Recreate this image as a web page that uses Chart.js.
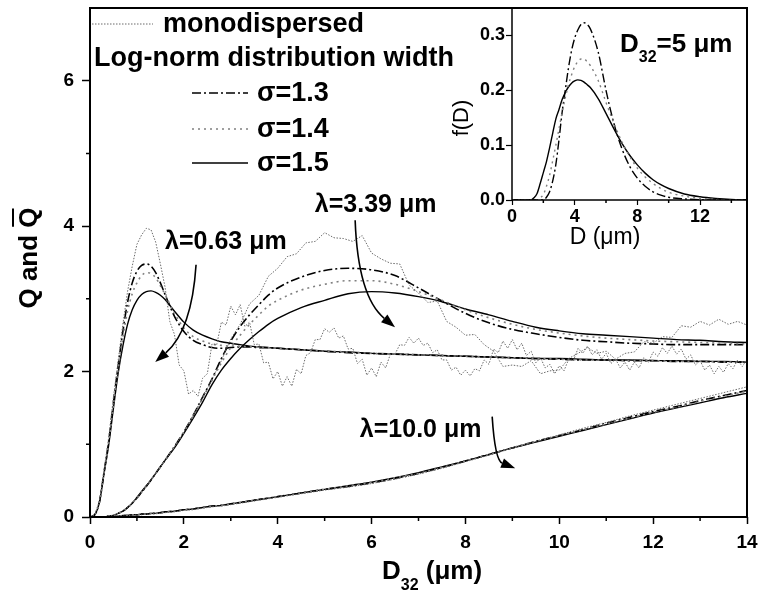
<!DOCTYPE html>
<html>
<head>
<meta charset="utf-8">
<script src="https://cdn.jsdelivr.net/npm/chart.js@4.4.1/dist/chart.umd.min.js"></script>
<style>
  body { margin: 0; background: #fff; }
  #wrap { position: relative; width: 760px; height: 598px; }
  #main { position: absolute; left: 0; top: 0; }
  #inset { position: absolute; left: 440px; top: 0; }
</style>
</head>
<body>
<div id="wrap">
  <canvas id="main" width="760" height="598"></canvas>
  <canvas id="inset" width="320" height="250"></canvas>
</div>
<script>
// ---- main plot data: Q vs D32 ----
const xSmooth = [0,0.1,0.2,0.3,0.4,0.5,0.6,0.7,0.8,0.9,1,1.1,1.2,1.3,1.4,1.5,1.6,
  1.8,2,2.2,2.4,2.6,2.8,3,3.2,3.4,3.6,3.8,4,
  4.5,5,5.5,6,6.5,7,7.5,8,8.5,9,9.5,10,10.5,11,11.5,12,12.5,13,13.5,14];

// lambda = 0.63 um
const q063s13 = [0,0.03,0.2,0.62,1.05,1.58,2.08,2.55,2.95,3.22,3.38,3.46,3.48,3.45,3.36,3.22,3.06,
  2.76,2.55,2.43,2.37,2.33,2.32,2.33,2.34,2.34,2.33,2.33,2.32,
  2.3,2.28,2.26,2.25,2.24,2.23,2.22,2.21,2.2,2.19,2.18,2.17,2.16,2.16,2.15,2.15,2.14,2.14,2.13,2.13];
const q063s14 = [0,0.03,0.2,0.61,1.02,1.54,2.03,2.47,2.83,3.07,3.22,3.32,3.36,3.35,3.29,3.18,3.06,
  2.8,2.6,2.48,2.42,2.38,2.36,2.35,2.35,2.34,2.34,2.33,2.32,
  2.3,2.28,2.27,2.25,2.24,2.23,2.22,2.21,2.2,2.19,2.18,2.17,2.16,2.16,2.15,2.15,2.14,2.14,2.13,2.13];
const q063s15 = [0,0.03,0.2,0.6,1.0,1.5,1.98,2.35,2.65,2.85,2.98,3.06,3.1,3.11,3.09,3.05,2.99,
  2.83,2.68,2.57,2.5,2.45,2.41,2.39,2.37,2.35,2.34,2.33,2.32,
  2.3,2.28,2.27,2.25,2.24,2.23,2.22,2.21,2.2,2.19,2.18,2.18,2.17,2.16,2.16,2.15,2.15,2.14,2.14,2.13];

// lambda = 3.39 um
const q339s13 = [0,0,0,0,0.01,0.02,0.05,0.08,0.13,0.19,0.26,0.34,0.42,0.51,0.6,0.69,0.78,
  0.97,1.17,1.4,1.65,1.9,2.18,2.42,2.62,2.78,2.92,3.05,3.15,
  3.3,3.39,3.42,3.4,3.32,3.15,2.97,2.8,2.67,2.58,2.52,2.47,2.43,2.41,2.39,2.38,2.37,2.37,2.37,2.37];
const q339s14 = [0,0,0,0,0.01,0.02,0.05,0.08,0.13,0.19,0.26,0.34,0.42,0.51,0.6,0.69,0.78,
  0.97,1.17,1.39,1.63,1.88,2.12,2.33,2.5,2.65,2.78,2.9,2.98,
  3.12,3.2,3.25,3.25,3.2,3.1,2.98,2.85,2.74,2.65,2.58,2.53,2.49,2.46,2.44,2.42,2.41,2.4,2.39,2.38];
const q339s15 = [0,0,0,0,0.01,0.02,0.05,0.08,0.13,0.19,0.27,0.35,0.43,0.51,0.6,0.69,0.78,
  0.95,1.15,1.36,1.58,1.82,2.02,2.18,2.32,2.44,2.55,2.65,2.73,
  2.88,2.98,3.07,3.1,3.08,3.03,2.96,2.86,2.78,2.69,2.61,2.56,2.52,2.5,2.48,2.46,2.44,2.43,2.41,2.4];

// lambda = 10.0 um
const q10s13 = [0,0,0,0,0.01,0.01,0.01,0.02,0.02,0.03,0.03,0.04,0.04,0.05,0.05,0.06,0.07,
  0.08,0.1,0.11,0.13,0.15,0.16,0.18,0.2,0.22,0.24,0.26,0.28,
  0.33,0.38,0.42,0.47,0.53,0.6,0.68,0.77,0.86,0.95,1.04,1.12,1.2,1.29,1.37,1.45,1.52,1.6,1.67,1.74];
const q10s14 = [0,0,0,0,0.01,0.01,0.01,0.02,0.02,0.03,0.03,0.04,0.04,0.05,0.05,0.06,0.07,
  0.08,0.1,0.11,0.13,0.15,0.16,0.18,0.2,0.22,0.24,0.26,0.28,
  0.33,0.38,0.43,0.48,0.54,0.6,0.68,0.77,0.86,0.95,1.04,1.12,1.2,1.28,1.36,1.44,1.51,1.59,1.66,1.73];
const q10s15 = [0,0,0,0,0.01,0.01,0.01,0.02,0.02,0.03,0.03,0.04,0.04,0.05,0.05,0.06,0.07,
  0.08,0.1,0.11,0.13,0.15,0.16,0.18,0.2,0.22,0.24,0.26,0.28,
  0.33,0.38,0.43,0.48,0.54,0.61,0.69,0.77,0.86,0.95,1.03,1.11,1.19,1.27,1.35,1.43,1.5,1.57,1.64,1.7];
const q10mono = [0,0,0,0,0,0.01,0.01,0.01,0.02,0.02,0.03,0.03,0.04,0.04,0.05,0.05,0.06,
  0.07,0.09,0.1,0.12,0.14,0.15,0.17,0.19,0.21,0.23,0.25,0.27,
  0.32,0.37,0.41,0.46,0.52,0.59,0.67,0.76,0.85,0.95,1.04,1.13,1.22,1.3,1.39,1.47,1.55,1.63,1.71,1.79];

// monodispersed, lambda = 0.63 um (fine step, keeps the ripple)
const xFine = [0,0.1,0.2,0.3,0.4,0.5,0.6,0.7,0.8,0.9,
  1,1.1,1.2,1.3,1.4,1.5,1.6,1.7,1.8,1.9, 2,2.1,2.2,2.3,2.4,2.5,2.6,2.7,2.8,2.9,
  3,3.1,3.2,3.3,3.4,3.5,3.6,3.7,3.8,3.9, 4,4.1,4.2,4.3,4.4,4.5,4.6,4.7,4.8,4.9,
  5,5.1,5.2,5.3,5.4,5.5,5.6,5.7,5.8,5.9, 6,6.1,6.2,6.3,6.4,6.5,6.6,6.7,6.8,6.9,
  7,7.1,7.2,7.3,7.4,7.5,7.6,7.7,7.8,7.9, 8,8.1,8.2,8.3,8.4,8.5,8.6,8.7,8.8,8.9,
  9,9.1,9.2,9.3,9.4,9.5,9.6,9.7,9.8,9.9, 10,10.1,10.2,10.3,10.4,10.5,10.6,10.7,10.8,10.9,
  11,11.1,11.2,11.3,11.4,11.5,11.6,11.7,11.8,11.9, 12,12.1,12.2,12.3,12.4,12.5,12.6,12.7,12.8,12.9,
  13,13.1,13.2,13.3,13.4,13.5,13.6,13.7,13.8,13.9, 14];
const q063mono = [0,0.03,0.22,0.65,1.1,1.65,2.15,2.65,3.1,3.45,
  3.75,3.88,3.97,3.95,3.78,3.48,3.16,2.69,2.51,2.09, 2.01,1.69,1.74,1.66,1.91,1.97,2.38,2.37,2.68,2.64,
  2.9,2.78,2.92,2.62,2.68,2.37,2.38,2.12,2.13,1.9, 2.0,1.8,1.93,1.8,2.03,1.97,2.22,2.26,2.44,2.44,
  2.59,2.54,2.6,2.46,2.49,2.31,2.32,2.11,2.17,1.95, 2.05,1.93,2.13,2.05,2.24,2.24,2.37,2.36,2.47,2.39,
  2.46,2.36,2.39,2.26,2.3,2.16,2.16,2.02,2.06,1.95, 2.02,1.94,2.04,2.01,2.16,2.1,2.31,2.26,2.42,2.32,
  2.44,2.3,2.39,2.22,2.28,2.12,2.19,2.05,2.1,1.97, 2.08,2.01,2.17,2.15,2.32,2.25,2.35,2.23,2.3,2.17,
  2.25,2.11,2.17,2.05,2.13,2.02,2.13,2.05,2.19,2.13, 2.27,2.21,2.33,2.25,2.35,2.24,2.31,2.17,2.23,2.09,
  2.15,2.02,2.09,1.97,2.07,1.99,2.11,2.04,2.16,2.07, 2.17];

// monodispersed, lambda = 3.39 um
const xMid = [0,0.2,0.4,0.6,0.8,1,1.2,1.4,1.6,1.8, 2,2.2,2.4,2.6,2.8,3,3.2,3.4,3.6,3.8,
  4,4.2,4.4,4.6,4.8,5,5.2,5.4,5.6,5.8, 6,6.2,6.4,6.6,6.8,7,7.2,7.4,7.6,7.8,
  8,8.2,8.4,8.6,8.8,9,9.2,9.4,9.6,9.8, 10,10.2,10.4,10.6,10.8,11,11.2,11.4,11.6,11.8,
  12,12.2,12.4,12.6,12.8,13,13.2,13.4,13.6,13.8, 14];
const q339mono = [0,0,0.01,0.05,0.13,0.27,0.43,0.6,0.78,0.97, 1.17,1.4,1.64,1.9,2.15,2.45,2.65,2.93,3.05,3.31,
  3.42,3.58,3.62,3.77,3.79,3.91,3.84,3.83,3.79,3.87, 3.63,3.55,3.49,3.48,3.19,3.08,2.95,2.97,2.69,2.61,
  2.5,2.51,2.37,2.28,2.07,2.09,2.07,2.15,1.97,2.01, 2.02,2.18,2.25,2.33,2.25,2.28,2.17,2.25,2.27,2.41,
  2.39,2.48,2.47,2.63,2.61,2.69,2.64,2.72,2.65,2.69, 2.64];

const xTicks = [0,2,4,6,8,10,12,14];
const xMinor = [1,3,5,7,9,11,13];
const yTicks = [0,2,4,6];
const yMinor = [1,3,5];

// ---- inset data: f(D), D32 = 5 um ----
const insetD = [0,1,1.2,1.4,1.6,1.8,2,2.2,2.4,2.6,2.8,3,3.2,3.4,3.6,3.8,4,4.2,4.4,4.6,4.8,5,
  5.5,6,6.5,7,7.5,8,8.5,9,9.5,10, 11,12,13,14,15];
const f13 = [0,0,0,0,0,0,0,0.005,0.015,0.035,0.065,0.11,0.16,0.2,0.24,0.272,0.295,0.31,0.32,0.323,0.32,0.312,
  0.27,0.2,0.14,0.095,0.062,0.04,0.025,0.015,0.009,0.005, 0.002,0.0005,0,0,0];
const f14 = [0,0,0,0,0,0.004,0.01,0.025,0.045,0.072,0.1,0.13,0.16,0.186,0.21,0.228,0.243,0.252,0.257,0.257,0.252,0.245,
  0.218,0.178,0.14,0.107,0.08,0.058,0.042,0.03,0.021,0.014, 0.007,0.003,0.001,0,0];
const f15 = [0,0,0,0.004,0.012,0.03,0.05,0.07,0.095,0.122,0.148,0.165,0.183,0.196,0.206,0.213,0.217,0.219,0.218,0.215,0.21,0.205,
  0.185,0.158,0.13,0.104,0.082,0.064,0.049,0.037,0.028,0.021, 0.011,0.006,0.003,0.001,0];
const insetXTicks = [0,4,8,12];
const insetXMinor = [2,6,10,14];
const insetYTicks = [0,0.1,0.2,0.3];

// annotation text and arrows (data units: label left/centre, arrow start / bend / tip)
const lambdaText = ['λ=0.63 μm', 'λ=3.39 μm', 'λ=10.0 μm'];
const lambdaAt = [[1.6, 3.78], [4.79, 4.29], [5.75, 1.2]];
const arrows = [
  [[2.26, 3.47], [2.17, 2.57], [1.39, 2.13]],
  [[5.65, 4.08], [5.71, 3.03], [6.5, 2.61]],
  [[8.57, 1.38], [8.63, 0.78], [9.06, 0.67]]
];

const F = '"Liberation Sans", Arial, sans-serif';
const pts = (xs, ys) => xs.map((x, i) => ({ x, y: ys[i] }));

const monoStyle = { borderColor: '#6a6a6a', borderWidth: 1, borderDash: [1.5, 1.5], tension: 0 };
const s13Style = { borderColor: '#000', borderWidth: 1.6, borderDash: [9, 3, 2, 3], cubicInterpolationMode: 'monotone' };
const s14Style = { borderColor: '#808080', borderWidth: 1.6, borderDash: [2, 4], cubicInterpolationMode: 'monotone' };
const s15Style = { borderColor: '#000', borderWidth: 1.4, cubicInterpolationMode: 'monotone' };

// keep the plot box where the reference has it: no extra room for edge labels
const noPad = s => { s.paddingTop = 0; s.paddingBottom = 0; s.paddingLeft = 0; s.paddingRight = 0; };

function drawArrow(ctx, x, y, a) {
  const p0 = [x.getPixelForValue(a[0][0]), y.getPixelForValue(a[0][1])];
  const p1 = [x.getPixelForValue(a[1][0]), y.getPixelForValue(a[1][1])];
  const p2 = [x.getPixelForValue(a[2][0]), y.getPixelForValue(a[2][1])];
  const ang = Math.atan2(p2[1] - p1[1], p2[0] - p1[0]);
  const L = 14, W = 5;
  const bx = p2[0] - L * Math.cos(ang), by = p2[1] - L * Math.sin(ang);
  ctx.beginPath();
  ctx.moveTo(p0[0], p0[1]);
  ctx.quadraticCurveTo(p1[0], p1[1], bx, by);
  ctx.stroke();
  ctx.beginPath();
  ctx.moveTo(p2[0], p2[1]);
  ctx.lineTo(bx + W * Math.sin(ang), by - W * Math.cos(ang));
  ctx.lineTo(bx - W * Math.sin(ang), by + W * Math.cos(ang));
  ctx.closePath();
  ctx.fill();
}

const mainDecor = {
  id: 'mainDecor',
  afterDraw(chart) {
    const { ctx, chartArea: a, scales: { x, y } } = chart;
    ctx.save();
    ctx.strokeStyle = '#000';
    ctx.fillStyle = '#000';
    ctx.setLineDash([]);
    ctx.lineWidth = 2;
    ctx.strokeRect(a.left, a.top, a.right - a.left, a.bottom - a.top);

    ctx.lineWidth = 1.5;
    ctx.beginPath();
    xMinor.forEach(v => { const px = x.getPixelForValue(v); ctx.moveTo(px, a.bottom); ctx.lineTo(px, a.bottom + 4); });
    yMinor.forEach(v => { const py = y.getPixelForValue(v); ctx.moveTo(a.left, py); ctx.lineTo(a.left - 4, py); });
    ctx.stroke();

    // legend
    ctx.textBaseline = 'middle';
    ctx.font = `bold 27px ${F}`;
    ctx.strokeStyle = monoStyle.borderColor; ctx.lineWidth = 1; ctx.setLineDash(monoStyle.borderDash);
    ctx.beginPath(); ctx.moveTo(92, 24); ctx.lineTo(153, 24); ctx.stroke();
    ctx.fillText('monodispersed', 163, 25);
    ctx.fillText('Log-norm distribution width', 94, 59);
    const rows = [[s13Style, 'σ=1.3', 93], [s14Style, 'σ=1.4', 129], [s15Style, 'σ=1.5', 163]];
    rows.forEach(([st, t, yy]) => {
      ctx.strokeStyle = st.borderColor; ctx.lineWidth = st.borderWidth;
      ctx.setLineDash(st.borderDash || []);
      ctx.beginPath(); ctx.moveTo(192, yy); ctx.lineTo(248, yy); ctx.stroke();
      ctx.fillText(t, 257, yy + 1);
    });
    ctx.setLineDash([]);

    // lambda labels and arrows
    ctx.font = `bold 25px ${F}`;
    lambdaText.forEach((t, i) => {
      ctx.fillText(t, x.getPixelForValue(lambdaAt[i][0]), y.getPixelForValue(lambdaAt[i][1]));
    });
    ctx.strokeStyle = '#000'; ctx.lineWidth = 1.6;
    arrows.forEach(a2 => drawArrow(ctx, x, y, a2));

    // x title: D32 (um)
    ctx.textBaseline = 'alphabetic';
    let cx = 382;
    ctx.font = `bold 26px ${F}`;
    ctx.fillText('D', cx, 579); cx += ctx.measureText('D').width;
    ctx.font = `bold 16px ${F}`;
    ctx.fillText('32', cx, 590); cx += ctx.measureText('32').width;
    ctx.font = `bold 26px ${F}`;
    ctx.fillText(' (μm)', cx, 579);

    // y title: Q and Q-bar
    ctx.save();
    ctx.translate(27, 258);
    ctx.rotate(-Math.PI / 2);
    ctx.font = `bold 26px ${F}`;
    ctx.textAlign = 'center';
    const w = ctx.measureText('Q and Q').width, wq = ctx.measureText('Q').width;
    ctx.fillText('Q and Q', 0, 9.5);
    ctx.lineWidth = 2;
    ctx.beginPath(); ctx.moveTo(w / 2 - wq + 1, -14); ctx.lineTo(w / 2 - 1, -14); ctx.stroke();
    ctx.restore();
    ctx.restore();
  }
};

const insetDecor = {
  id: 'insetDecor',
  afterDraw(chart) {
    const { ctx, chartArea: a, scales: { x } } = chart;
    ctx.save();
    ctx.strokeStyle = '#000'; ctx.fillStyle = '#000';
    ctx.lineWidth = 1.5;
    ctx.strokeRect(a.left, a.top, a.right - a.left, a.bottom - a.top);
    ctx.beginPath();
    insetXMinor.forEach(v => { const px = x.getPixelForValue(v); ctx.moveTo(px, a.bottom); ctx.lineTo(px, a.bottom + 3); });
    ctx.stroke();

    ctx.textBaseline = 'alphabetic';
    let cx = 180;
    ctx.font = `bold 26px ${F}`;
    ctx.fillText('D', cx, 52); cx += ctx.measureText('D').width;
    ctx.font = `bold 16px ${F}`;
    ctx.fillText('32', cx, 62); cx += ctx.measureText('32').width;
    ctx.font = `bold 26px ${F}`;
    ctx.fillText('=5 μm', cx, 52);

    ctx.font = `23px ${F}`;
    ctx.textAlign = 'center';
    ctx.fillText('D (μm)', 165, 244);

    ctx.save();
    ctx.translate(22, 118);
    ctx.rotate(-Math.PI / 2);
    ctx.font = `22px ${F}`;
    ctx.textBaseline = 'middle';
    ctx.fillText('f(D)', 0, 0);
    ctx.restore();
    ctx.restore();
  }
};

new Chart(document.getElementById('main'), {
  type: 'line',
  data: {
    datasets: [
      { data: pts(xFine, q063mono), ...monoStyle },
      { data: pts(xMid, q339mono), ...monoStyle },
      { data: pts(xSmooth, q10mono), ...monoStyle },
      { data: pts(xSmooth, q063s14), ...s14Style },
      { data: pts(xSmooth, q339s14), ...s14Style },
      { data: pts(xSmooth, q10s14), ...s14Style },
      { data: pts(xSmooth, q063s13), ...s13Style },
      { data: pts(xSmooth, q339s13), ...s13Style },
      { data: pts(xSmooth, q10s13), ...s13Style },
      { data: pts(xSmooth, q063s15), ...s15Style },
      { data: pts(xSmooth, q339s15), ...s15Style },
      { data: pts(xSmooth, q10s15), ...s15Style }
    ]
  },
  options: {
    responsive: false,
    animation: false,
    devicePixelRatio: 1,
    layout: { padding: { left: 0, right: 13, top: 8, bottom: 0 } },
    elements: { point: { radius: 0 } },
    plugins: { legend: { display: false }, tooltip: { enabled: false } },
    scales: {
      x: {
        type: 'linear', min: 0, max: 14,
        afterBuildTicks: s => { s.ticks = xTicks.map(v => ({ value: v })); },
        afterFit: s => { s.height = 81; noPad(s); },
        grid: { drawOnChartArea: false, tickLength: 7, tickWidth: 1.5, tickColor: '#000' },
        border: { display: false },
        ticks: { color: '#000', padding: 7, font: { family: F, size: 19, weight: 'bold' } }
      },
      y: {
        type: 'linear', min: 0, max: 7,
        afterBuildTicks: s => { s.ticks = yTicks.map(v => ({ value: v })); },
        afterFit: s => { s.width = 90; noPad(s); },
        grid: { drawOnChartArea: false, tickLength: 8, tickWidth: 1.5, tickColor: '#000' },
        border: { display: false },
        ticks: { color: '#000', padding: 8, font: { family: F, size: 19, weight: 'bold' } }
      }
    }
  },
  plugins: [mainDecor]
});

new Chart(document.getElementById('inset'), {
  type: 'line',
  data: {
    datasets: [
      { data: pts(insetD, f14), ...s14Style, borderWidth: 1.4 },
      { data: pts(insetD, f13), ...s13Style, borderWidth: 1.4 },
      { data: pts(insetD, f15), ...s15Style, borderWidth: 1.4 }
    ]
  },
  options: {
    responsive: false,
    animation: false,
    devicePixelRatio: 1,
    layout: { padding: { left: 0, right: 13, top: 8, bottom: 0 } },
    elements: { point: { radius: 0 } },
    plugins: { legend: { display: false }, tooltip: { enabled: false } },
    scales: {
      x: {
        type: 'linear', min: 0, max: 15,
        afterBuildTicks: s => { s.ticks = insetXTicks.map(v => ({ value: v })); },
        afterFit: s => { s.height = 50; noPad(s); },
        grid: { drawOnChartArea: false, tickLength: 5, tickWidth: 1.2, tickColor: '#000' },
        border: { display: false },
        ticks: { color: '#000', padding: 1, font: { family: F, size: 18, weight: 'bold' } }
      },
      y: {
        type: 'linear', min: 0, max: 0.35,
        afterBuildTicks: s => { s.ticks = insetYTicks.map(v => ({ value: v })); },
        afterFit: s => { s.width = 72; noPad(s); },
        grid: { drawOnChartArea: false, tickLength: 6, tickWidth: 1.2, tickColor: '#000' },
        border: { display: false },
        ticks: { color: '#000', padding: 1, font: { family: F, size: 18, weight: 'bold' },
                 callback: v => v.toFixed(1) }
      }
    }
  },
  plugins: [insetDecor]
});
</script>
</body>
</html>
